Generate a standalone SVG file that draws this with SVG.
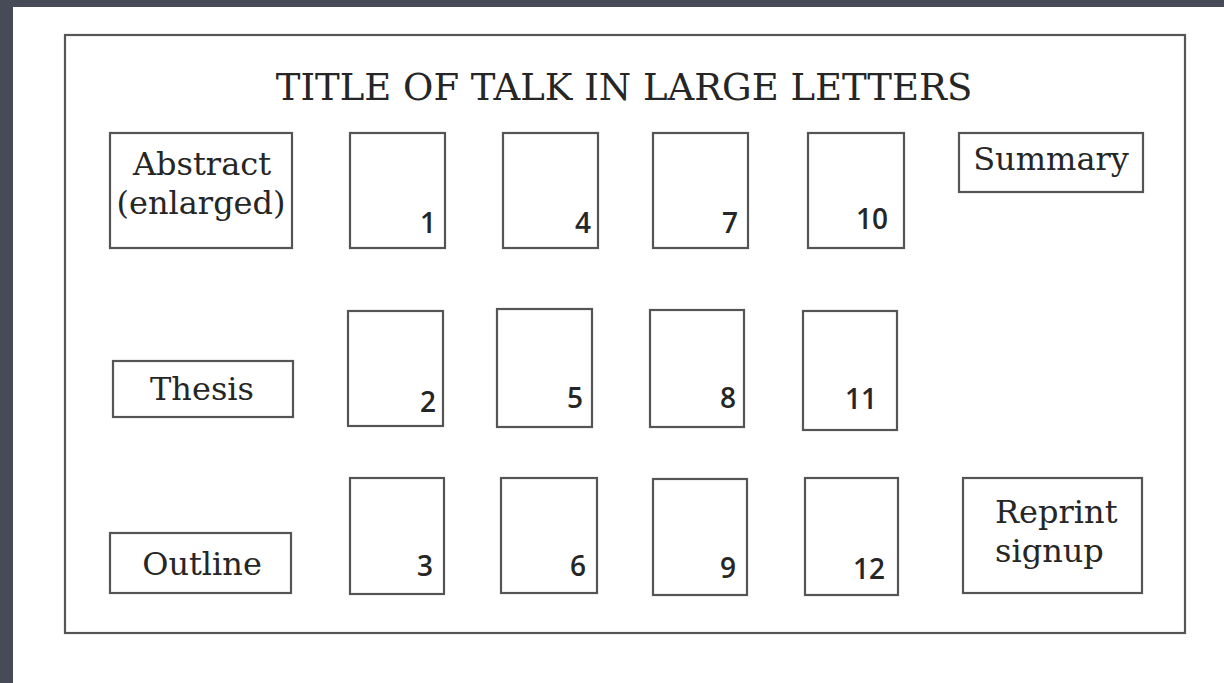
<svg xmlns="http://www.w3.org/2000/svg" width="1224" height="683" viewBox="0 0 1224 683">
<style>
.box{fill:#fff;stroke:#555;stroke-width:2.2}
.lbl{font-family:"DejaVu Serif","Liberation Serif",serif;font-size:32px;fill:#262626;text-anchor:middle}
.num{font-family:"Open Sans","Noto Sans",sans-serif;font-size:28px;font-weight:600;fill:#262626;text-anchor:end}
</style>
<rect x="0" y="0" width="1224" height="683" fill="#474b57"/>
<rect x="13" y="7" width="1211" height="676" fill="#ffffff"/>
<g id="frame">
<rect class="box" x="65" y="35" width="1120" height="598"/>
<text x="624" y="100" font-family="DejaVu Serif, Liberation Serif, serif" font-size="37" fill="#262626" text-anchor="middle">TITLE OF TALK IN LARGE LETTERS</text>
</g>
<g id="connectors"></g>
<g id="abstract"><rect class="box" x="110" y="133" width="182" height="115"/><text class="lbl" x="202" y="175">Abstract</text><text class="lbl" x="201" y="214">(enlarged)</text></g>
<g id="summary"><rect class="box" x="959" y="133" width="184" height="59"/><text class="lbl" x="1051" y="170">Summary</text></g>
<g id="thesis"><rect class="box" x="113" y="361" width="180" height="56"/><text class="lbl" x="202" y="400">Thesis</text></g>
<g id="outline"><rect class="box" x="110" y="533" width="181" height="60"/><text class="lbl" x="202" y="575">Outline</text></g>
<g id="reprint"><rect class="box" x="963" y="478" width="179" height="115"/><text class="lbl" x="995" y="523" style="text-anchor:start">Reprint</text><text class="lbl" x="995" y="562" style="text-anchor:start">signup</text></g>
<g id="s1"><rect class="box" x="350" y="133" width="95" height="115"/><text class="num" x="436" y="233">1</text></g>
<g id="s4"><rect class="box" x="503" y="133" width="95" height="115"/><text class="num" x="591" y="233">4</text></g>
<g id="s7"><rect class="box" x="653" y="133" width="95" height="115"/><text class="num" x="738" y="233">7</text></g>
<g id="s10"><rect class="box" x="808" y="133" width="96" height="115"/><text class="num" x="888" y="229">10</text></g>
<g id="s2"><rect class="box" x="348" y="311" width="95" height="115"/><text class="num" x="436" y="412">2</text></g>
<g id="s5"><rect class="box" x="497" y="309" width="95" height="118"/><text class="num" x="583" y="408">5</text></g>
<g id="s8"><rect class="box" x="650" y="310" width="94" height="117"/><text class="num" x="736" y="408">8</text></g>
<g id="s11"><rect class="box" x="803" y="311" width="94" height="119"/><text class="num" x="877" y="409">11</text></g>
<g id="s3"><rect class="box" x="350" y="478" width="94" height="116"/><text class="num" x="433" y="576">3</text></g>
<g id="s6"><rect class="box" x="501" y="478" width="96" height="115"/><text class="num" x="586" y="576">6</text></g>
<g id="s9"><rect class="box" x="653" y="479" width="94" height="116"/><text class="num" x="736" y="578">9</text></g>
<g id="s12"><rect class="box" x="805" y="478" width="93" height="117"/><text class="num" x="885" y="579">12</text></g>
</svg>
